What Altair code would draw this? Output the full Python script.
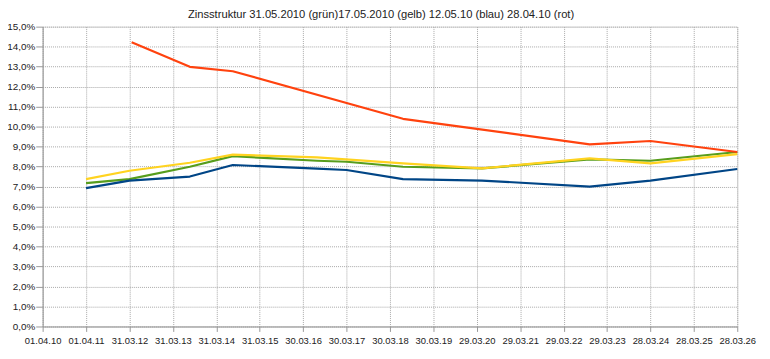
import altair as alt
import pandas as pd

# x positions in years since 01.04.10, values in percent
tick_labels = ["01.04.10", "01.04.11", "31.03.12", "31.03.13", "31.03.14", "31.03.15",
               "30.03.16", "30.03.17", "30.03.18", "30.03.19", "29.03.20", "29.03.21",
               "29.03.22", "29.03.23", "28.03.24", "28.03.25", "28.03.26"]

green_x = [1.0, 2.0, 3.39, 4.38, 6.32, 7.0, 8.3, 10.12, 12.6, 14.0, 16.0]
green_y = [7.17, 7.37, 7.99, 8.52, 8.29, 8.24, 7.99, 7.91, 8.36, 8.29, 8.73]

yellow_x = [1.0, 2.0, 3.39, 4.38, 6.32, 8.3, 10.12, 12.6, 14.0, 16.0]
yellow_y = [7.37, 7.79, 8.19, 8.60, 8.46, 8.16, 7.91, 8.41, 8.16, 8.62]

blue_x = [1.0, 2.0, 3.39, 4.38, 6.32, 7.0, 8.3, 10.12, 12.6, 14.0, 16.0]
blue_y = [6.92, 7.30, 7.50, 8.08, 7.90, 7.83, 7.37, 7.30, 7.00, 7.30, 7.88]

red_x = [2.05, 3.39, 4.38, 8.3, 12.6, 14.0, 16.0]
red_y = [14.22, 12.99, 12.77, 10.39, 9.11, 9.28, 8.73]

series = [
    ("grün", green_x, green_y, "#579d1c"),
    ("gelb", yellow_x, yellow_y, "#ffd320"),
    ("blau", blue_x, blue_y, "#004586"),
    ("rot", red_x, red_y, "#ff420e"),
]

rows = []
for name, xs, ys, _ in series:
    for i, (x, y) in enumerate(zip(xs, ys)):
        rows.append({"serie": name, "x": x, "y": y, "i": i})
df = pd.DataFrame(rows)

label_arr = "[" + ",".join("'" + t + "'" for t in tick_labels) + "]"

x_enc = alt.X("x:Q",
              scale=alt.Scale(domain=[0, 16], nice=False, zero=False),
              axis=alt.Axis(values=list(range(17)), labelExpr=label_arr + "[datum.value]",
                            title=None, grid=True, gridColor="#a8a8a8", gridDash=[1, 1],
                            domainColor="#999999", tickColor="#999999", tickSize=5,
                            labelPadding=4, labelFontSize=9.5, labelColor="#222222",
                            labelFont="Liberation Sans", labelOverlap=False,
                            labelFlush=False))
y_enc = alt.Y("y:Q",
              scale=alt.Scale(domain=[0, 15], nice=False),
              axis=alt.Axis(values=list(range(16)),
                            labelExpr="replace(format(datum.value, '.1f'), '.', ',') + '%'",
                            title=None, grid=True, gridColor="#a8a8a8", gridDash=[1, 1],
                            domainColor="#999999", tickColor="#999999", tickSize=7,
                            labelPadding=1, labelFontSize=10, labelColor="#222222",
                            labelFont="Liberation Sans"))

layers = []
for name, _, _, col in series:
    layers.append(
        alt.Chart(df).transform_filter(alt.datum.serie == name)
        .mark_line(color=col, strokeWidth=2.2, strokeJoin="round")
        .encode(x=x_enc, y=y_enc, order="i:Q")
    )

chart = alt.layer(*layers).properties(
    width=702, height=303,
    autosize=alt.AutoSizeParams(type="none"),
    padding={"left": 35, "top": 17, "right": 25, "bottom": 30},
    title=alt.TitleParams(
        "Zinsstruktur 31.05.2010 (grün)17.05.2010 (gelb)  12.05.10 (blau) 28.04.10 (rot)",
        fontSize=11.3, font="Liberation Sans", fontWeight="normal", color="#222222",
        offset=1, dx=-9),
).configure_view(stroke=None).configure(background="white")

chart.save("out.html", embed_options={"renderer": "svg", "actions": False})
